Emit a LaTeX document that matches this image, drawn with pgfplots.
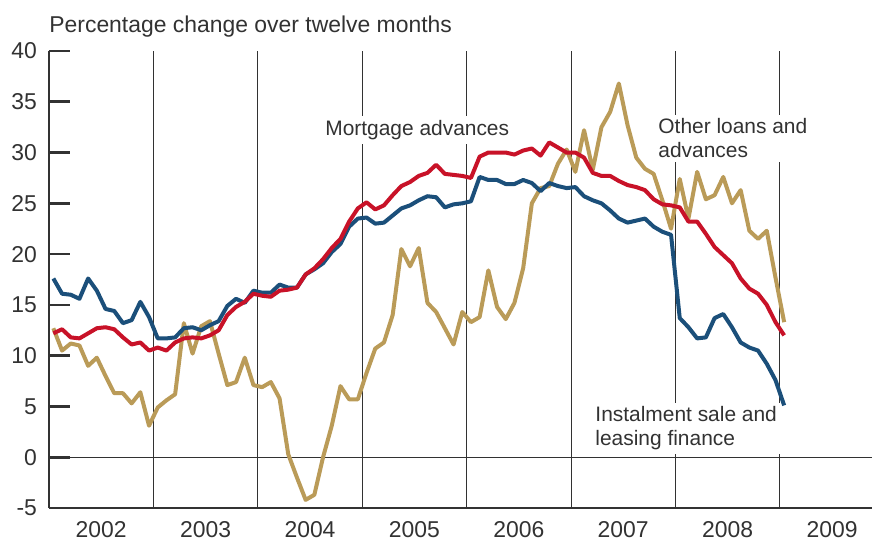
\documentclass[border=0pt]{standalone}
\usepackage{pgfplots}
\pgfplotsset{compat=1.18}
\usepackage{pgfplotstable}
\usepackage{fontspec}
\setmainfont{Liberation Sans}
\definecolor{cblue}{RGB}{27,79,122}
\definecolor{cred}{RGB}{200,18,40}
\definecolor{cgold}{RGB}{186,155,88}
\definecolor{txt}{RGB}{50,50,50}

% i = month index (0 = Jan 2002 ... 84 = Jan 2009)
\pgfplotstableread{
i gold red blue
0 12.7 12.2 17.6
1 10.5 12.6 16.1
2 11.2 11.8 16.0
3 11.0 11.7 15.6
4 9.0 12.2 17.6
5 9.8 12.7 16.4
6 8.0 12.8 14.6
7 6.3 12.6 14.4
8 6.3 11.8 13.2
9 5.3 11.1 13.5
10 6.4 11.3 15.3
11 3.1 10.5 13.8
12 4.9 10.8 11.7
13 5.6 10.5 11.7
14 6.2 11.3 11.8
15 13.2 11.7 12.7
16 10.2 11.8 12.8
17 12.9 11.7 12.5
18 13.4 12.0 13.0
19 10.2 12.5 13.4
20 7.1 14.0 14.9
21 7.4 14.8 15.6
22 9.8 15.3 15.2
23 7.1 16.1 16.4
24 6.9 15.9 16.2
25 7.4 15.8 16.2
26 5.8 16.4 17.0
27 0.3 16.5 16.7
28 -2.0 16.7 16.7
29 -4.2 18.0 18.0
30 -3.7 18.6 18.5
31 0.0 19.5 19.1
32 3.1 20.6 20.2
33 7.0 21.5 21.0
34 5.7 23.2 22.7
35 5.7 24.5 23.5
36 8.3 25.1 23.6
37 10.7 24.4 23.0
38 11.3 24.8 23.1
39 14.0 25.8 23.8
40 20.5 26.7 24.5
41 18.8 27.1 24.8
42 20.6 27.7 25.3
43 15.2 28.0 25.7
44 14.3 28.8 25.6
45 12.7 27.9 24.6
46 11.1 27.8 24.9
47 14.3 27.7 25.0
48 13.3 27.5 25.2
49 13.8 29.6 27.6
50 18.4 30.0 27.3
51 14.8 30.0 27.3
52 13.6 30.0 26.9
53 15.2 29.8 26.9
54 18.6 30.2 27.3
55 25.0 30.4 27.0
56 26.5 29.7 26.2
57 26.7 31.0 27.0
58 28.9 30.5 26.7
59 30.3 30.0 26.5
60 28.1 30.0 26.6
61 32.2 29.5 25.7
62 28.3 28.0 25.3
63 32.5 27.7 25.0
64 34.0 27.7 24.3
65 36.8 27.2 23.5
66 32.7 26.8 23.1
67 29.5 26.6 23.3
68 28.4 26.3 23.5
69 27.9 25.4 22.7
70 25.3 24.9 22.2
71 22.5 24.8 21.9
72 27.4 24.6 13.7
73 23.5 23.2 12.8
74 28.1 23.2 11.7
75 25.4 22.0 11.8
76 25.8 20.7 13.7
77 27.6 19.9 14.1
78 25.0 19.1 12.8
79 26.3 17.6 11.3
80 22.3 16.6 10.8
81 21.5 16.1 10.5
82 22.3 15.0 9.2
83 17.7 13.3 7.6
84 13.3 12.0 5.1
}\data

\begin{document}
\begin{tikzpicture}
\useasboundingbox (-24.5bp,-18.5bp) rectangle (411.5bp,254bp);
\begin{axis}[
  at={(0,0)}, anchor=south west,
  scale only axis, width=411.5bp, height=228.5bp,
  xmin=2002, xmax=2009.883, ymin=-5, ymax=40,
  axis x line*=bottom, axis y line*=left,
  axis line style={line width=1.3bp, draw=txt, -},
  ytick={-5,0,5,10,15,20,25,30,35,40},
  tick align=inside, major tick length=10.5bp,
  ytick style={line width=1.3bp, draw=txt},
  xtick={2002.5,2003.5,2004.5,2005.5,2006.5,2007.5,2008.5,2009.5},
  xticklabels={2002,2003,2004,2005,2006,2007,2008,2009},
  xtick style={draw=none},
  extra x ticks={2003,2004,2005,2006,2007,2008,2009},
  extra x tick labels={},
  extra x tick style={grid=major, tick style={draw=none}},
  extra y ticks={0},
  extra y tick labels={},
  extra y tick style={grid=major},
  major grid style={line width=0.5bp, draw=txt},
  /pgf/number format/assume math mode=true,
  tick label style={font=\fontsize{11.5}{13}\selectfont, text=txt},
  yticklabel style={xshift=-2.5bp},
  xticklabel style={yshift=-3bp},
  every axis plot/.append style={line width=2bp, line join=round, no markers},
]
\addplot[cgold] table[x expr=2002+(\thisrow{i}+0.5)/12, y=gold] {\data};
\addplot[cblue] table[x expr=2002+(\thisrow{i}+0.5)/12, y=blue] {\data};
\addplot[cred] table[x expr=2002+(\thisrow{i}+0.5)/12, y=red] {\data};

\node[anchor=base west, fill=white, inner sep=2bp, text=txt,
  font=\fontsize{10.5}{12}\selectfont] at (axis cs:2004.605,31.69) {Mortgage advances};
\node[anchor=north west, fill=white, inner sep=2bp, text=txt, align=left,
  font=\fontsize{10.5}{12}\selectfont] at (axis cs:2007.795,33.76) {Other loans and\\advances};
\node[anchor=north west, fill=white, inner sep=2bp, text=txt, align=left,
  font=\fontsize{10.5}{12}\selectfont] at (axis cs:2007.192,5.41) {Instalment sale and\\leasing finance};
\end{axis}
\node[anchor=base west, inner sep=0, text=txt, font=\fontsize{11.5}{13}\selectfont]
  at (0,237.5bp) {Percentage change over twelve months};
\end{tikzpicture}
\end{document}
